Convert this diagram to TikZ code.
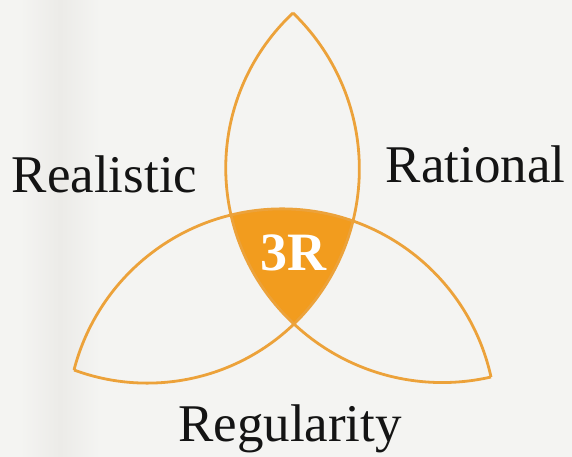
\documentclass[tikz,border=0pt]{standalone}
\usepackage{fontspec}
\setmainfont{Liberation Serif}
\definecolor{bgc}{RGB}{244,244,242}
\definecolor{bgd}{RGB}{236,235,232}
\definecolor{lensc}{RGB}{236,162,58}
\definecolor{corec}{RGB}{242,156,30}
% circle through three points (x1,y1),(x2,y2),(x3,y3); stores
% \<name>S start angle at P1, \<name>B end angle at P2, \<name>C end angle at P3, \<name>R radius
% direction: the one in which P2 comes before P3
\newcommand\cthree[7]{%
 \pgfmathsetmacro\ccbx{#3-#1}%
 \pgfmathsetmacro\ccby{#4-#2}%
 \pgfmathsetmacro\ccqx{#5-#1}%
 \pgfmathsetmacro\ccqy{#6-#2}%
 \pgfmathsetmacro\ccdet{2*(\ccbx*\ccqy-\ccby*\ccqx)}%
 \pgfmathsetmacro\ccbb{\ccbx*\ccbx+\ccby*\ccby}%
 \pgfmathsetmacro\ccqq{\ccqx*\ccqx+\ccqy*\ccqy}%
 \pgfmathsetmacro\ccux{(\ccqy*\ccbb-\ccby*\ccqq)/\ccdet}%
 \pgfmathsetmacro\ccuy{(\ccbx*\ccqq-\ccqx*\ccbb)/\ccdet}%
 \pgfmathsetmacro\ccr{sqrt(\ccux*\ccux+\ccuy*\ccuy)}%
 \pgfmathsetmacro\ccaa{atan2(-\ccuy,-\ccux)}%
 \pgfmathsetmacro\ccgb{atan2(\ccby-\ccuy,\ccbx-\ccux)}%
 \pgfmathsetmacro\ccgc{atan2(\ccqy-\ccuy,\ccqx-\ccux)}%
 \pgfmathsetmacro\ccdb{Mod(\ccgb-\ccaa,360)}%
 \pgfmathsetmacro\ccdc{Mod(\ccgc-\ccaa,360)}%
 \pgfmathsetmacro\ccab{(\ccdb<\ccdc) ? (\ccaa+\ccdb) : (\ccaa+\ccdb-360)}%
 \pgfmathsetmacro\ccac{(\ccdb<\ccdc) ? (\ccaa+\ccdc) : (\ccaa+\ccdc-360)}%
 \expandafter\edef\csname #7S\endcsname{\ccaa}%
 \expandafter\edef\csname #7B\endcsname{\ccab}%
 \expandafter\edef\csname #7C\endcsname{\ccac}%
 \expandafter\edef\csname #7R\endcsname{\ccr}%
}
\begin{document}
\begin{tikzpicture}[x=100pt,y=100pt,
  lensline/.style={draw=lensc, line width=2.8pt, line join=round},
  corefill/.style={fill=corec},
  lbl/.style={font=\fontsize{53}{60}\selectfont, text=black!92, inner sep=0pt},
  corelbl/.style={font=\bfseries\fontsize{54}{60}\selectfont, text=white, inner sep=0pt}]
\useasboundingbox (0,0) rectangle (5.72,4.57);
\fill[bgc] (0,0) rectangle (5.72,4.57);
\shade[left color=bgc, right color=bgc, middle color=bgd, shading angle=90] (0.2,0) rectangle (1.0,4.57);
% key points
\coordinate (T) at (2.93,4.44);
\coordinate (L) at (0.74,0.87);
\coordinate (R) at (4.91,0.80);
\coordinate (A) at (2.31,2.42);
\coordinate (B) at (3.53,2.36);
\coordinate (C) at (2.94,1.33);
% circles
\cthree{2.93}{4.44}{2.31}{2.42}{2.94}{1.33}{ta}
\cthree{2.93}{4.44}{3.53}{2.36}{2.94}{1.33}{tb}
\cthree{0.74}{0.87}{2.31}{2.42}{3.53}{2.36}{la}
\cthree{0.74}{0.87}{2.94}{1.33}{3.53}{2.36}{lc}
\cthree{4.91}{0.80}{3.53}{2.36}{2.31}{2.42}{rb}
\cthree{4.91}{0.80}{2.94}{1.33}{2.31}{2.42}{rc}
\cthree{2.31}{2.42}{2.94}{1.33}{2.93}{4.44}{fa}
\cthree{2.94}{1.33}{3.53}{2.36}{2.93}{4.44}{fb}
\cthree{3.53}{2.36}{2.31}{2.42}{0.74}{0.87}{fc}
% core region
\fill[corefill] (A) arc[start angle=\faS, end angle=\faB, radius=\faR]
  arc[start angle=\fbS, end angle=\fbB, radius=\fbR]
  arc[start angle=\fcS, end angle=\fcB, radius=\fcR] -- cycle;
% lens outlines
\draw[lensline] (T) arc[start angle=\taS, end angle=\taC, radius=\taR];
\draw[lensline] (T) arc[start angle=\tbS, end angle=\tbC, radius=\tbR];
\draw[lensline] (L) arc[start angle=\laS, end angle=\laC, radius=\laR];
\draw[lensline] (L) arc[start angle=\lcS, end angle=\lcB, radius=\lcR];
\draw[lensline] (R) arc[start angle=\rbS, end angle=\rbB, radius=\rbR];
\draw[lensline] (R) arc[start angle=\rcS, end angle=\rcB, radius=\rcR];
% labels
\node[corelbl] (core) at (2.93,2.04) {3R};
\node[lbl, anchor=base] (real) at (1.045,2.64) {Realistic};
\node[lbl, anchor=base] (rat) at (4.755,2.74) {Rational};
\node[lbl, anchor=base] (reg) at (2.90,0.15) {Regularity};
\end{tikzpicture}
\end{document}
